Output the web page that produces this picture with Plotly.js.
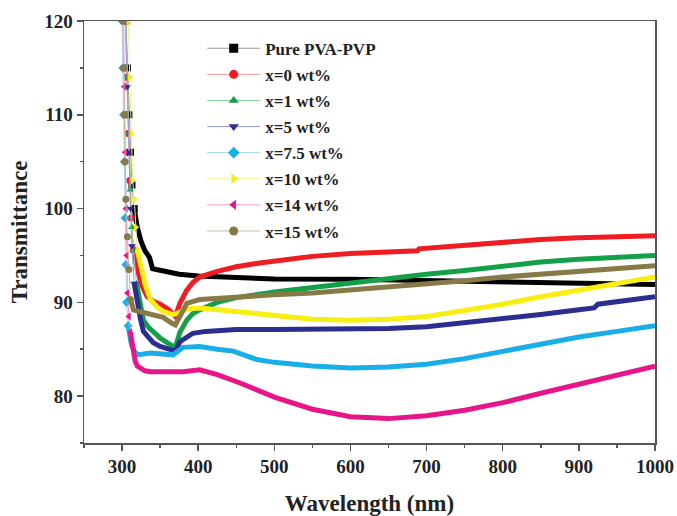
<!DOCTYPE html>
<html>
<head>
<meta charset="utf-8">
<script src="https://cdn.plot.ly/plotly-3.0.1.min.js"></script>
<style>html,body{margin:0;padding:0;background:#fff}#chart{width:677px;height:516px}</style>
</head>
<body>
<div id="chart"></div>
<script>
// ---- data ----
const seriesNames = ["Pure PVA-PVP","x=0 wt%","x=1 wt%","x=5 wt%","x=7.5 wt%","x=10 wt%","x=14 wt%","x=15 wt%"];

const wlPure = [305,307,309,311,313,316,320,325,330,336,338,340,345,350,375,400,450,500,600,700,800,900,1000];
const tPure  = [120,115,110,106,102.5,100,98,96.5,95.5,94.8,94.2,93.6,93.5,93.4,93.0,92.8,92.6,92.5,92.45,92.3,92.2,92.0,91.9];

const wlX0 = [304,306,308,310,312,315,320,326,333,341,350,360,367,370,376,385,393,402,425,450,481,525,550,600,650,688,690,750,800,850,900,950,1000];
const tX0  = [120,114,108,103,99,95.6,93.5,91.8,90.6,90.1,89.8,89.3,88.7,88.5,89.9,91.3,92.1,92.7,93.3,93.8,94.2,94.6,94.9,95.2,95.4,95.5,95.7,96.1,96.4,96.7,96.9,97.0,97.1];

const wlX1 = [305,307,309,311,313,315,319,324,328,335,341,350,359,366,370,376,385,393,402,425,450,500,550,600,650,700,750,800,850,900,950,1000];
const tX1  = [120,114,108,102,98,95.5,92,89.5,88.1,87.3,86.8,86.2,85.7,85.4,85.2,86.8,88.1,88.8,89.2,90.0,90.5,91.1,91.6,92.1,92.6,93.0,93.4,93.9,94.3,94.6,94.8,95.0];

const wlX5 = [305,307,309,311,313,316,320,324,328,335,341,350,360,367,370,376,385,393,410,425,450,500,550,600,650,700,750,800,850,900,920,925,950,1000];
const tX5  = [120,113,106,100,96,92,90,88.3,86.9,86.2,85.7,85.3,85.0,84.8,84.8,85.8,86.3,86.7,86.9,87.0,87.1,87.1,87.1,87.1,87.2,87.4,87.8,88.3,88.7,89.2,89.4,89.8,90.1,90.6];

const wlX75 = [300,301,302,303,304,305,306,308,312,316,320,337,355,367,380,402,425,446,477,500,550,600,650,700,750,800,850,900,950,1000];
const tX75  = [120,115,110,105,99,94,90,87.5,85.6,84.8,84.4,84.6,84.5,84.4,85.2,85.3,85.0,84.8,83.9,83.6,83.2,83.0,83.1,83.4,84.0,84.8,85.6,86.3,86.9,87.5];

const wlX10 = [308,310,312,314,316,318,320,325,330,337,346,355,367,372,385,402,450,500,550,600,650,700,750,800,850,900,950,1000];
const tX10  = [120,114,108,103,101,98,95.6,93.5,92,90.3,89.5,89.0,88.7,88.8,89.3,89.4,89.0,88.5,88.2,88.1,88.2,88.5,89.1,89.8,90.6,91.3,92.0,92.7];

const wlX14 = [302,303,304,305,306,307,309,311,314,317,320,330,337,360,380,402,425,455,481,500,550,600,650,700,750,800,850,900,950,1000];
const tX14  = [120,113,106,100,95,91,88.5,86.8,85,83.8,83.2,82.7,82.6,82.6,82.6,82.8,82.3,81.4,80.5,79.9,78.6,77.8,77.6,77.9,78.5,79.3,80.3,81.3,82.3,83.2];

const wlX15 = [301,302,303,304,305,307,309,311,315,324,337,354,365,370,378,385,402,450,481,500,550,600,650,700,750,800,850,900,950,1000];
const tX15  = [120,115,110,105,101,97,93.5,90.3,89.2,89.0,88.7,88.4,87.8,87.6,88.8,89.9,90.3,90.6,90.8,90.8,91.0,91.3,91.6,91.9,92.3,92.7,93.0,93.3,93.6,93.9];

const xTickVals = [300,400,500,600,700,800,900,1000];
const yTickVals = [80,90,100,110,120];

// ---- styling ----
const wls = [wlPure,wlX0,wlX1,wlX5,wlX75,wlX10,wlX14,wlX15];
const ts  = [tPure,tX0,tX1,tX5,tX75,tX10,tX14,tX15];
const colors = ["#000000","#ee1d24","#14a048","#2b2e8e","#1aaee8","#f7ee14","#e6168a","#877a47"];
const lightColors = ["#9a9a9a","#f4a0a0","#90d0a0","#9a9ad0","#a0d8f0","#f4ee90","#f0a0cc","#c4bea0"];
const symbols = ["square","circle","triangle-up","triangle-down","diamond","triangle-right","triangle-left","circle"];
const STEEP = 0.62; // |dT/dλ| above which the curve is drawn as separated markers

const traces = [];
for (let i = 0; i < seriesNames.length; i++) {
  const x = wls[i], y = ts[i], n = x.length;
  const seg = [];
  for (let k = 0; k < n - 1; k++) seg.push(Math.abs(y[k + 1] - y[k]) / (x[k + 1] - x[k]));
  const steepPt = y.map((v, k) => (k > 0 && seg[k - 1] > STEEP) || (k < n - 1 && seg[k] > STEEP));
  const flatPt = y.map((v, k) => (k > 0 && seg[k - 1] <= STEEP) || (k < n - 1 && seg[k] <= STEEP));
  traces.push({
    x: x, y: y, type: "scatter", mode: "lines+markers",
    line: {color: lightColors[i], width: 1},
    marker: {color: colors[i], symbol: symbols[i], size: 7, opacity: steepPt.map(s => s ? 1 : 0)},
    showlegend: false, hoverinfo: "skip"
  });
  traces.push({
    x: x, y: y.map((v, k) => flatPt[k] ? v : null), type: "scatter", mode: "lines",
    line: {color: colors[i], width: 5}, connectgaps: false,
    showlegend: false, hoverinfo: "x+y"
  });
}
for (let i = 0; i < seriesNames.length; i++) {
  traces.push({
    x: [null], y: [null], type: "scatter", mode: "lines+markers", name: seriesNames[i],
    legendgroup: "g" + i,
    line: {color: lightColors[i], width: 1},
    marker: {color: colors[i], symbol: symbols[i], size: 9}
  });
}

const fontFam = "Liberation Serif, Times New Roman, serif";
const layout = {
  width: 677, height: 516,
  margin: {l: 84, r: 22, t: 21, b: 73},
  paper_bgcolor: "#fff", plot_bgcolor: "#fff",
  font: {family: fontFam, color: "#222"},
  xaxis: {
    range: [250, 1000], tickvals: xTickVals, ticks: "outside", ticklen: 6, tickwidth: 1.5, tickcolor: "#555",
    showline: true, linecolor: "#555", linewidth: 1.5, mirror: true, showgrid: false, zeroline: false,
    minor: {dtick: 50, tick0: 0, ticks: "outside", ticklen: 3, tickwidth: 1.5, tickcolor: "#555"},
    tickfont: {family: fontFam, size: 19, weight: "bold", color: "#222"},
    title: {text: "Wavelength (nm)", font: {family: fontFam, size: 23, weight: "bold", color: "#222"}, standoff: 22}
  },
  yaxis: {
    range: [75, 120], tickvals: yTickVals, ticks: "outside", ticklen: 6, tickwidth: 1.5, tickcolor: "#555",
    showline: true, linecolor: "#555", linewidth: 1.5, mirror: true, showgrid: false, zeroline: false,
    minor: {dtick: 5, tick0: 0, ticks: "outside", ticklen: 3, tickwidth: 1.5, tickcolor: "#555"},
    tickfont: {family: fontFam, size: 19, weight: "bold", color: "#222"},
    title: {text: "Transmittance", font: {family: fontFam, size: 23, weight: "bold", color: "#222"}, standoff: 10}
  },
  legend: {
    x: 0.207, y: 0.977, xanchor: "left", yanchor: "top",
    bgcolor: "rgba(0,0,0,0)", borderwidth: 0, itemwidth: 53,
    font: {family: fontFam, size: 17, weight: "bold", color: "#222"},
    traceorder: "grouped", tracegroupgap: 1
  }
};

Plotly.newPlot("chart", traces, layout, {displayModeBar: false, staticPlot: true});
</script>
</body>
</html>
